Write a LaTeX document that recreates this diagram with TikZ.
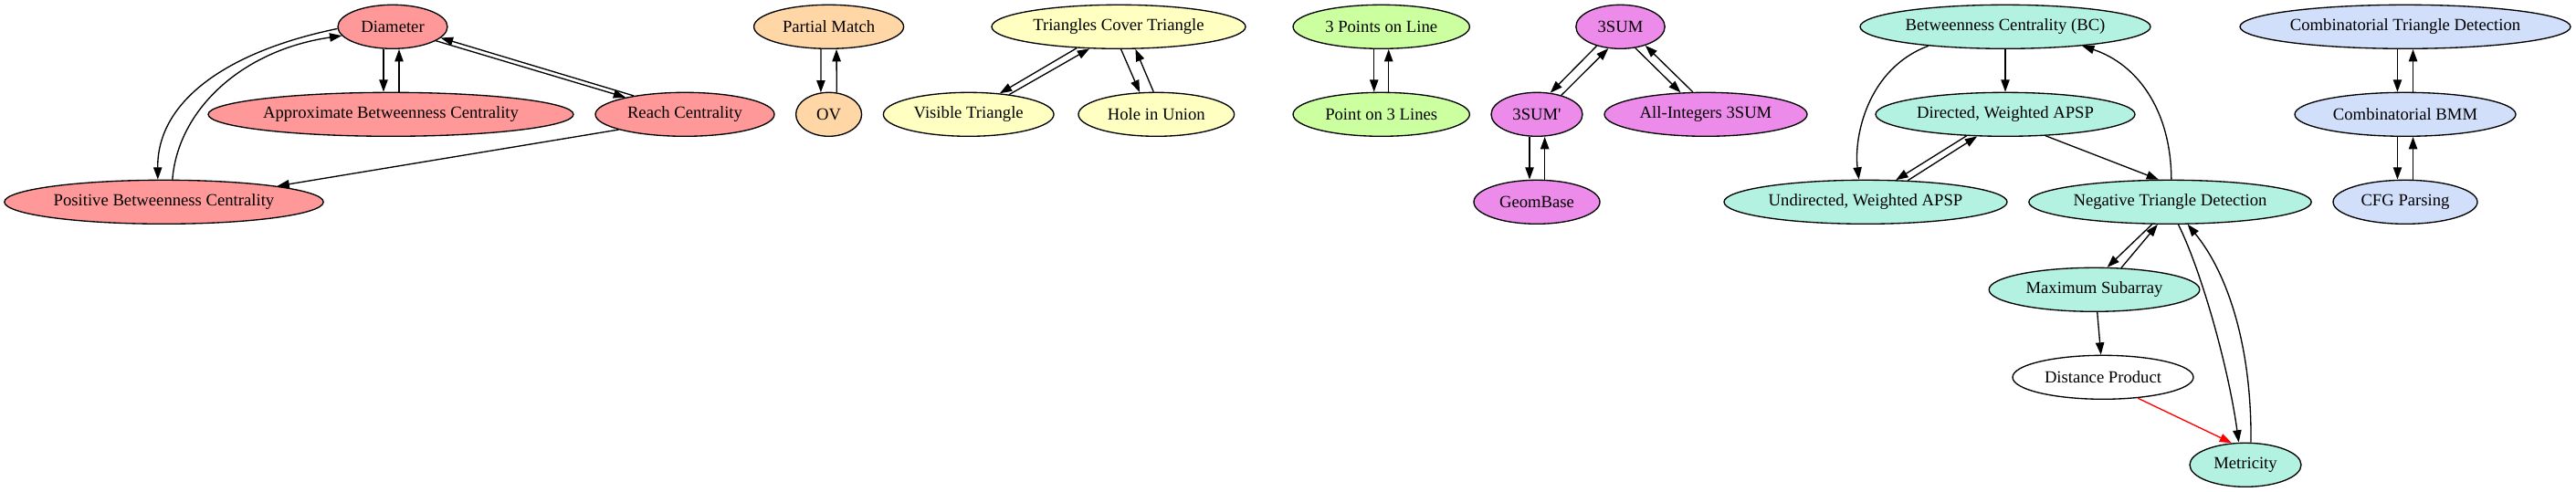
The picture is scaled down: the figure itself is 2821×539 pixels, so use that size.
\documentclass[tikz,border=0pt]{standalone}
\usepackage{fontspec}
\setmainfont{Liberation Serif}
\usetikzlibrary{shapes.geometric,arrows.meta}
\definecolor{cred}{RGB}{255,153,153}
\definecolor{corange}{RGB}{255,214,165}
\definecolor{cyellow}{RGB}{255,255,194}
\definecolor{cgreen}{RGB}{204,255,160}
\definecolor{cviolet}{RGB}{236,139,233}
\definecolor{cteal}{RGB}{179,242,225}
\definecolor{cblue}{RGB}{209,223,250}
\begin{document}
\begin{tikzpicture}[x=0.75pt,y=-0.75pt,
  nd/.style={ellipse,draw,line width=1pt,inner sep=0pt,minimum height=36pt,font=\fontsize{14}{16}\selectfont},
  e/.style={line width=1pt,-{Triangle[length=10pt,width=7pt]}}]
\useasboundingbox (0,0) rectangle (2821,539);
% red group
\node[nd,fill=cred,minimum width=90pt] (diam) at (430,29.3) {Diameter};
\node[nd,fill=cred,minimum width=300pt] (abc) at (428,125.3) {Approximate Betweenness Centrality};
\node[nd,fill=cred,minimum width=147pt] (reach) at (750,125.3) {Reach Centrality};
\node[nd,fill=cred,minimum width=262pt] (pbc) at (179.5,221.3) {Positive Betweenness Centrality};
% orange
\node[nd,fill=corange,minimum width=123pt] (pm) at (907.6,29.3) {Partial Match};
\node[nd,fill=corange,minimum width=54pt] (ov) at (907.6,125.3) {OV};
% yellow
\node[nd,fill=cyellow,minimum width=208.5pt] (tct) at (1225,29.3) {Triangles Cover Triangle};
\node[nd,fill=cyellow,minimum width=140pt] (vis) at (1060.7,125.3) {Visible Triangle};
\node[nd,fill=cyellow,minimum width=128pt] (hole) at (1266.3,125.3) {Hole in Union};
% green
\node[nd,fill=cgreen,minimum width=145pt] (p3l) at (1512.7,29.3) {3 Points on Line};
\node[nd,fill=cgreen,minimum width=145pt] (pt3) at (1512.7,125.3) {Point on 3 Lines};
% violet
\node[nd,fill=cviolet,minimum width=73pt] (s3) at (1774.5,29.3) {3SUM};
\node[nd,fill=cviolet,minimum width=75pt] (s3p) at (1683,125.3) {3SUM\textquotesingle};
\node[nd,fill=cviolet,minimum width=166.5pt] (allint) at (1868,125.3) {All-Integers 3SUM};
\node[nd,fill=cviolet,minimum width=103.5pt] (geom) at (1683,221.3) {GeomBase};
% teal
\node[nd,fill=cteal,minimum width=238.5pt] (bc) at (2196,29.3) {Betweenness Centrality (BC)};
\node[nd,fill=cteal,minimum width=213pt] (dapsp) at (2196,125.3) {Directed, Weighted APSP};
\node[nd,fill=cteal,minimum width=232.5pt] (uapsp) at (2043,221.3) {Undirected, Weighted APSP};
\node[nd,fill=cteal,minimum width=232pt] (ntd) at (2376.5,221.3) {Negative Triangle Detection};
\node[nd,fill=cteal,minimum width=173pt] (maxsub) at (2293.5,317.3) {Maximum Subarray};
\node[nd,minimum width=148.5pt] (dp) at (2303,413.3) {Distance Product};
\node[nd,fill=cteal,minimum width=91.5pt] (metr) at (2459,509.3) {Metricity};
% blue
\node[nd,fill=cblue,minimum width=271.5pt] (ctd) at (2634,29.3) {Combinatorial Triangle Detection};
\node[nd,fill=cblue,minimum width=181.5pt] (cbmm) at (2634,125.3) {Combinatorial BMM};
\node[nd,fill=cblue,minimum width=118.5pt] (cfg) at (2634,221.3) {CFG Parsing};

% red edges
\draw[e] ([xshift=-7.5pt]diam.south) -- ([xshift=-6pt]abc.north);
\draw[e] ([xshift=6.75pt]abc.north) -- ([xshift=5.25pt]diam.south);
\draw[e] (diam.-18.3) -- (reach.164.5);
\draw[e] (reach.160.4) -- (diam.-13.7);
\draw[e] (diam.-178) .. controls (250,56) and (172,110) .. ([xshift=-5pt]pbc.north);
\draw[e] ([xshift=7pt]pbc.north) .. controls (195,120) and (265,55) .. (diam.-170);
\draw[e] (reach.-167.1) -- (pbc.8);
% orange edges
\draw[e] ([xshift=-6.45pt]pm.south) -- (ov.110);
\draw[e] (ov.70) -- ([xshift=6.3pt]pm.south);
% yellow edges
\draw[e] (tct.-153.4) -- (vis.34.5);
\draw[e] (vis.26.4) -- (tct.-143.7);
\draw[e] (tct.-84) -- (hole.127.8);
\draw[e] (hole.97) -- (tct.-53.8);
% green edges
\draw[e] ([xshift=-6pt]p3l.south) -- ([xshift=-6pt]pt3.north);
\draw[e] ([xshift=6pt]pt3.north) -- ([xshift=6pt]p3l.south);
% violet edges
\draw[e] (s3.-141.7) -- (s3p.58.8);
\draw[e] (s3p.38.3) -- (s3.-119.9);
\draw[e] (s3.-55.3) -- (allint.139.6);
\draw[e] (allint.120.2) -- (s3.-37.9);
\draw[e] ([xshift=-6pt]s3p.south) -- ([xshift=-6pt]geom.north);
\draw[e] ([xshift=6.5pt]geom.north) -- ([xshift=6.5pt]s3p.south);
% teal edges
\draw[e] (bc.-166.6) .. controls (2045,75) and (2030,150) .. ([xshift=-5.5pt]uapsp.north);
\draw[e] (bc.south) -- (dapsp.north);
\draw[e] (dapsp.-151.6) -- (uapsp.36.3);
\draw[e] (uapsp.27.3) -- (dapsp.-142);
\draw[e] (dapsp.-28) -- (ntd.117.3);
\draw[e] ([xshift=1pt]ntd.north) .. controls (2377.5,120) and (2340,70) .. (bc.-14);
\draw[e] (ntd.-129.6) -- (maxsub.60.4);
\draw[e] (maxsub.39.2) -- (ntd.-119.5);
\draw[e] (ntd.-70.5) .. controls (2410,295) and (2440,400) .. ([xshift=-5.5pt]metr.north);
\draw[e] ([xshift=4.5pt]metr.north) .. controls (2466,380) and (2440,300) .. (ntd.-52.4);
\draw[e] ([xshift=2.4pt]maxsub.south) -- ([xshift=-1.7pt]dp.north);
\draw[e,red] (dp.-31.1) -- (metr.122.3);
% blue edges
\draw[e] ([xshift=-6.4pt]ctd.south) -- ([xshift=-6.4pt]cbmm.north);
\draw[e] ([xshift=6.4pt]cbmm.north) -- ([xshift=6.4pt]ctd.south);
\draw[e] ([xshift=-6.4pt]cbmm.south) -- ([xshift=-6.4pt]cfg.north);
\draw[e] ([xshift=6.4pt]cfg.north) -- ([xshift=6.4pt]cbmm.south);
\end{tikzpicture}
\end{document}
